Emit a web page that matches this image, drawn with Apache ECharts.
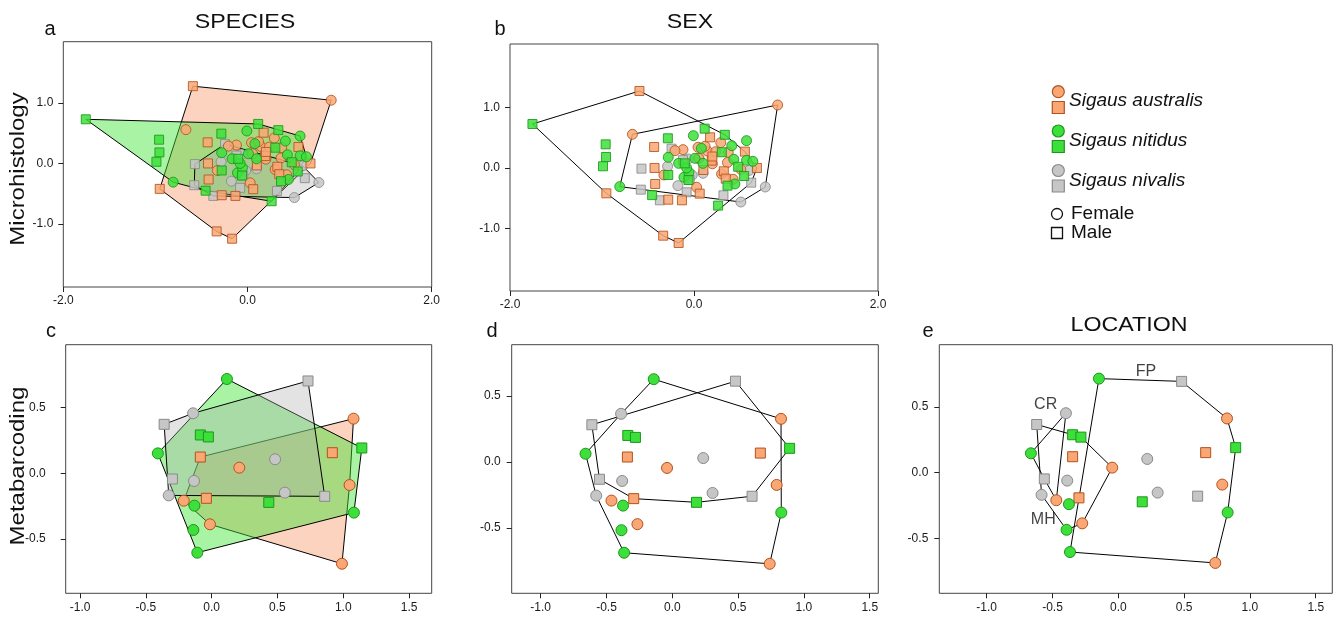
<!DOCTYPE html>
<html><head><meta charset="utf-8">
<script src="https://cdn.jsdelivr.net/npm/echarts@6/dist/echarts.min.js"></script>
<style>html,body{margin:0;padding:0;background:#fff}#chart{width:1338px;height:617px}</style>
</head><body><div id="chart"></div>
<script>
// ---------- Microhistology (panels a, b) ----------
const microAusF = [[0.909,1.044],[-0.669,0.558],[-0.12,0.304],[-0.207,0.287],[-0.327,-0.116],[0.029,-0.32],[0.044,0.343],[0.145,0.282],[0.291,0.42],[0.372,0.26],[0.364,0.09],[0.425,-0.188],[0.509,-0.022],[0.055,0.16],[0.2,0.07],[0.236,0.27],[0.3,-0.1],[0.12,0.36]];
const microAusM = [[-0.593,1.276],[-0.953,-0.42],[-0.335,-1.122],[-0.167,-1.243],[-0.433,0.348],[-0.429,0.0],[-0.422,-0.265],[-0.28,-0.525],[-0.131,-0.536],[0.062,-0.425],[0.175,0.508],[0.553,0.271],[0.684,0.0],[0.324,-0.055],[0.345,-0.177],[0.193,0.122],[0.102,-0.033],[0.2,0.19]];
const microNitF = [[-0.807,-0.309],[-0.007,0.536],[0.571,0.453],[0.411,0.37],[-0.28,0.177],[-0.167,0.077],[-0.109,-0.155],[-0.055,-0.072],[0.08,0.326],[0.098,0.077],[0.433,0.144],[0.571,0.127],[0.64,0.11],[0.444,-0.265],[-0.08,0.0],[0.01,0.16]];
const microNitM = [[-1.756,0.729],[-0.96,0.392],[-0.956,0.182],[-0.989,0.028],[-0.455,-0.45],[-0.284,0.492],[-0.28,-0.116],[0.116,0.652],[0.335,0.55],[0.302,0.26],[-0.1,0.077],[0.545,-0.133],[0.364,-0.293],[0.262,-0.624],[0.48,0.02],[-0.06,-0.2]];
const microNivF = [[0.775,-0.315],[0.509,-0.564],[-0.287,0.028],[-0.065,0.149],[-0.175,-0.293],[0.047,0.16],[0.098,-0.088],[-0.02,-0.12],[0.6,-0.04]];
const microNivM = [[-0.571,-0.011],[-0.578,-0.359],[-0.371,-0.536],[-0.244,0.32],[-0.047,-0.199],[-0.08,-0.403],[0.32,-0.453],[0.622,-0.243],[-0.12,0.13]];

// ---------- Metabarcoding (panels c, d, e): same 28 specimens ----------
const metaSpecies = ['nit','nit','nit','nit','nit','nit','nit','nit','nit','nit','aus','aus','aus','aus','aus','aus','aus','aus','aus','niv','niv','niv','niv','niv','niv','niv','niv','niv'];
const metaSex = ['F','F','F','F','F','F','M','M','M','M','F','F','F','F','F','F','M','M','M','F','F','F','F','F','M','M','M','M'];
const metaLocation = ['FP','CR','MH','MH','FP','FP','MH','MH','FP','FP','FP','MH','CR','MH','FP','FP','MH','MH','FP','CR','MH','MH','FP','FP','MH','CR','FP','FP'];
const metaC = [[0.116,0.718],[-0.409,0.152],[-0.131,-0.246],[-0.139,-0.431],[-0.109,-0.604],[1.081,-0.299],[-0.086,0.292],[-0.025,0.277],[1.141,0.193],[0.434,-0.221],[1.078,0.416],[0.21,0.043],[-0.212,-0.208],[-0.013,-0.388],[1.048,-0.089],[0.99,-0.688],[-0.086,0.124],[-0.04,-0.19],[0.917,0.157],[-0.141,0.457],[-0.134,-0.058],[-0.326,-0.168],[0.482,0.107],[0.556,-0.147],[-0.361,0.373],[-0.298,-0.043],[0.732,0.703],[0.859,-0.175]];
const metaD = [[-0.141,0.629],[-0.659,0.063],[-0.374,-0.331],[-0.386,-0.518],[-0.366,-0.689],[0.828,-0.384],[-0.338,0.202],[-0.28,0.187],[0.891,0.104],[0.184,-0.306],[0.826,0.328],[-0.04,-0.045],[-0.462,-0.293],[-0.265,-0.472],[0.793,-0.174],[0.74,-0.773],[-0.341,0.038],[-0.293,-0.278],[0.669,0.068],[-0.389,0.366],[-0.381,-0.144],[-0.578,-0.255],[0.235,0.03],[0.306,-0.235],[-0.611,0.283],[-0.553,-0.131],[0.48,0.614],[0.606,-0.26]];
const metaE = [[-0.147,0.715],[-0.664,0.147],[-0.375,-0.24],[-0.393,-0.435],[-0.367,-0.604],[0.831,-0.303],[-0.347,0.288],[-0.284,0.27],[0.892,0.19],[0.182,-0.222],[0.826,0.412],[-0.046,0.038],[-0.471,-0.21],[-0.274,-0.386],[0.79,-0.091],[0.737,-0.687],[-0.347,0.121],[-0.299,-0.192],[0.664,0.152],[-0.398,0.452],[-0.388,-0.061],[-0.583,-0.169],[0.22,0.104],[0.299,-0.152],[-0.62,0.366],[-0.562,-0.048],[0.481,0.694],[0.603,-0.179]];
const locationNames = ['CR','FP','MH'];
const locationLabelPos = [[-0.552,0.521],[0.211,0.765],[-0.57,-0.355]];

// tick labels
const microTicksX = [-2, 0, 2];
const microTicksY = [-1, 0, 1];
const metaTicksX = [-1, -0.5, 0, 0.5, 1, 1.5];
const metaTicksY = [-0.5, 0, 0.5];
const speciesLabels = ['Sigaus australis','Sigaus nitidus','Sigaus nivalis'];

// ---------- styling ----------
const FONT = 'Liberation Sans, Arial, Helvetica, sans-serif';
const COL = {
  aus: {fill:'#F9A774', stroke:'#B4521C', hull:'rgba(249,158,110,0.45)'},
  nit: {fill:'#3DE03A', stroke:'#1C961C', hull:'rgba(60,228,50,0.44)'},
  niv: {fill:'#C6C6C6', stroke:'#8A8A8A', hull:'rgba(170,170,170,0.33)'}
};

function convexHull(pts){
  const p = pts.slice().sort((a,b)=>a[0]-b[0]||a[1]-b[1]);
  const cr=(o,a,b)=>(a[0]-o[0])*(b[1]-o[1])-(a[1]-o[1])*(b[0]-o[0]);
  const lo=[],up=[];
  for(const q of p){while(lo.length>=2&&cr(lo[lo.length-2],lo[lo.length-1],q)<=0)lo.pop();lo.push(q);}
  for(let i=p.length-1;i>=0;i--){const q=p[i];while(up.length>=2&&cr(up[up.length-2],up[up.length-1],q)<=0)up.pop();up.push(q);}
  lo.pop();up.pop();return lo.concat(up);
}
function hull(gi, pts, fill){
  const h = convexHull(pts);
  return {type:'custom', xAxisIndex:gi, yAxisIndex:gi, silent:true, z:1, data:[[0,0]], clip:false,
    renderItem:(params, api)=>({type:'polygon', shape:{points:h.map(p=>api.coord(p))},
      style:{fill: fill || 'none', stroke:'#000', lineWidth:1}})};
}
function scatter(gi, pts, sp, sex, size, opacity){
  return {type:'scatter', xAxisIndex:gi, yAxisIndex:gi, z:5, data:pts, silent:true,
    symbol: sex==='F' ? 'circle' : 'rect',
    symbolSize: sex==='F' ? size : size-1,
    itemStyle:{color:COL[sp].fill, borderColor:COL[sp].stroke, borderWidth:1, opacity:opacity}};
}
function metaPick(arr, fn){ return arr.filter((p,i)=>fn(i)); }

const grids = [
  {left:63.3, top:41.7, width:368.4, height:245.3},
  {left:510, top:44, width:368, height:247},
  {left:65.7, top:344.7, width:366, height:248.6},
  {left:511.7, top:344.7, width:366.6, height:248.6},
  {left:939.3, top:344.7, width:393, height:248.6}
].map(g=>Object.assign({show:true, borderColor:'#444', borderWidth:1, backgroundColor:'transparent'}, g));

const ranges = [
  {x:[-2,2], y:[-2.04,2.01], tx:microTicksX, ty:microTicksY, my:10},
  {x:[-2,2], y:[-2.039,2.055], tx:microTicksX, ty:microTicksY, my:10},
  {x:[-1.109,1.672], y:[-0.913,0.979], tx:metaTicksX, ty:metaTicksY, my:20},
  {x:[-1.22,1.565], y:[-0.997,0.891], tx:metaTicksX, ty:metaTicksY, my:11},
  {x:[-1.36,1.626], y:[-0.918,0.973], tx:metaTicksX, ty:metaTicksY, my:11}
];
const fmt = v => Number(v).toFixed(1);
const xAxis = ranges.map((r,i)=>({type:'value', gridIndex:i, min:r.x[0], max:r.x[1], position:'bottom',
  axisLine:{show:false, onZero:false}, splitLine:{show:false},
  axisTick:{show:true, length:5, customValues:r.tx, lineStyle:{color:'#222'}},
  axisLabel:{customValues:r.tx, formatter:fmt, fontSize:12, color:'#1a1a1a', fontFamily:FONT, margin:8}}));
const yAxis = ranges.map((r,i)=>({type:'value', gridIndex:i, min:r.y[0], max:r.y[1], position:'left',
  axisLine:{show:false, onZero:false}, splitLine:{show:false},
  axisTick:{show:true, length:5, customValues:r.ty, lineStyle:{color:'#222'}},
  axisLabel:{customValues:r.ty, formatter:fmt, fontSize:12, color:'#1a1a1a', fontFamily:FONT, margin:r.my}}));

const series = [];
// panel a: species hulls
series.push(hull(0, microAusF.concat(microAusM), COL.aus.hull));
series.push(hull(0, microNitF.concat(microNitM), COL.nit.hull));
series.push(hull(0, microNivF.concat(microNivM), COL.niv.hull));
// panel b: sex hulls
series.push(hull(1, microAusF.concat(microNitF, microNivF), null));
series.push(hull(1, microAusM.concat(microNitM, microNivM), null));
[0,1].forEach(gi=>{
  series.push(scatter(gi, microNivF,'niv','F',10,0.85));
  series.push(scatter(gi, microNivM,'niv','M',10,0.85));
  series.push(scatter(gi, microAusF,'aus','F',10,0.85));
  series.push(scatter(gi, microAusM,'aus','M',10,0.85));
  series.push(scatter(gi, microNitF,'nit','F',10,0.85));
  series.push(scatter(gi, microNitM,'nit','M',10,0.85));
});
// panel c: species hulls
['aus','nit','niv'].forEach(sp=>series.push(hull(2, metaPick(metaC,i=>metaSpecies[i]===sp), COL[sp].hull)));
// panel d: sex hulls
['F','M'].forEach(sx=>series.push(hull(3, metaPick(metaD,i=>metaSex[i]===sx), null)));
// panel e: location hulls
locationNames.forEach(l=>series.push(hull(4, metaPick(metaE,i=>metaLocation[i]===l), null)));
[[2,metaC],[3,metaD],[4,metaE]].forEach(([gi,arr])=>{
  ['niv','aus','nit'].forEach(sp=>['F','M'].forEach(sx=>{
    series.push(scatter(gi, metaPick(arr,i=>metaSpecies[i]===sp&&metaSex[i]===sx), sp, sx, 11, 1));
  }));
});
// location labels
series.push({type:'scatter', xAxisIndex:4, yAxisIndex:4, z:6, silent:true, symbolSize:0,
  data: locationNames.map((n,i)=>({name:n, value:locationLabelPos[i]})),
  label:{show:true, position:'inside', formatter:'{b}', fontSize:16, color:'#111', fontFamily:FONT}});

// ---------- text & legend ----------
function txt(x,y,s,size,opt){
  return Object.assign({type:'text', x:x, y:y, silent:true,
    style:Object.assign({text:s, fontSize:size, fontFamily:FONT, fill:'#111', textAlign:'center', textVerticalAlign:'middle'}, (opt&&opt.style)||{})},
    opt&&opt.el||{});
}
const graphic = [
  txt(245,22,'SPECIES',20,{el:{scaleX:1.16}}),
  txt(690,22,'SEX',20,{el:{scaleX:1.16}}),
  txt(1129,325,'LOCATION',20,{el:{scaleX:1.16}}),
  txt(50,29.5,'a',20), txt(500,29.5,'b',20), txt(51,331.5,'c',20), txt(492,331,'d',20), txt(928,331,'e',20),
  txt(18,169,'Microhistology',20,{el:{rotation:Math.PI/2, scaleX:1.2}}),
  txt(18,466,'Metabarcoding',20,{el:{rotation:Math.PI/2, scaleX:1.2}})
];
const legY = [[91.7,107.5,100.5],[131,146.5,140.5],[170.5,186,181]];
['aus','nit','niv'].forEach((sp,i)=>{
  graphic.push({type:'circle', silent:true, shape:{cx:1058.3, cy:legY[i][0], r:6}, style:{fill:COL[sp].fill, stroke:COL[sp].stroke, lineWidth:1.2}});
  graphic.push({type:'rect', silent:true, shape:{x:1052.3, y:legY[i][1]-6, width:12, height:12}, style:{fill:COL[sp].fill, stroke:COL[sp].stroke, lineWidth:1.2}});
  graphic.push(txt(1069,legY[i][2],speciesLabels[i],19,{style:{textAlign:'left', fontStyle:'italic'}}));
});
graphic.push({type:'circle', silent:true, shape:{cx:1057, cy:214, r:5.5}, style:{fill:'#fff', stroke:'#111', lineWidth:1.3}});
graphic.push(txt(1071,214,'Female',19,{style:{textAlign:'left'}}));
graphic.push({type:'rect', silent:true, shape:{x:1051.5, y:227.5, width:11, height:11}, style:{fill:'#fff', stroke:'#111', lineWidth:1.3}});
graphic.push(txt(1071,233,'Male',19,{style:{textAlign:'left'}}));

const chart = echarts.init(document.getElementById('chart'), null, {renderer:'canvas'});
chart.setOption({animation:false, backgroundColor:'#fff', grid:grids, xAxis:xAxis, yAxis:yAxis, series:series, graphic:graphic});
</script></body></html>
